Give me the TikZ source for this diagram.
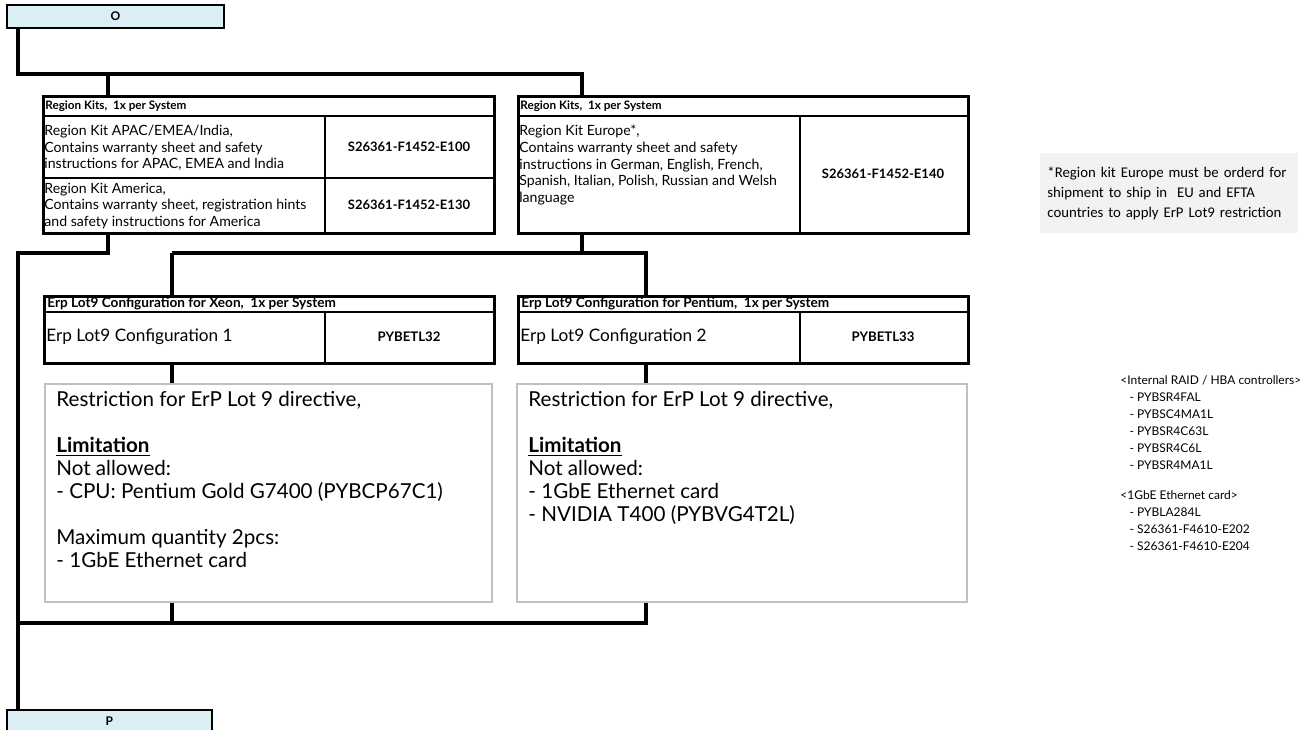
\documentclass[tikz,border=0pt]{standalone}
\usepackage{fontspec}
\setmainfont{Lato}
\newfontfamily\notefont{Carlito}
\definecolor{oblue}{HTML}{DAEEF3}
\definecolor{rgray}{HTML}{BFBFBF}
\definecolor{notebg}{HTML}{F2F2F2}
\begin{document}
\begin{tikzpicture}[x=0.5pt,y=-0.5pt,
  conn/.style={draw, line width=1.6pt},
  frame/.style={draw, line width=1.5pt, inner sep=0pt, anchor=north west},
  div/.style={line width=0.8pt},
  ppbox/.style={draw, line width=0.9pt, fill=oblue, inner sep=0pt, anchor=north west,
     font=\fontsize{6}{7}\selectfont\bfseries},
  rsbox/.style={draw=rgray, line width=1pt, inner sep=0pt, anchor=north west},
  hdr/.style={anchor=west, inner sep=0pt, font=\fontsize{5.85}{7}\selectfont\bfseries},
  ehdr/.style={anchor=west, inner sep=0pt, font=\fontsize{6.8}{8}\selectfont\bfseries},
  small/.style={anchor=west, inner sep=0pt, align=left, font=\fontsize{7.05}{8.3}\selectfont},
  code/.style={inner sep=0pt, font=\fontsize{6.5}{8}\selectfont\bfseries},
  erpmain/.style={anchor=west, inner sep=0pt, font=\fontsize{8.6}{10}\selectfont},
  erpcode/.style={inner sep=0pt, font=\fontsize{6.6}{9}\selectfont\bfseries},
  restr/.style={anchor=north west, inner sep=0pt, align=left, font=\fontsize{10.3}{11.5}\selectfont},
  notebox/.style={fill=notebg, anchor=north west, inner xsep=3.5pt, inner ysep=0pt,
     text width=122pt, minimum height=40pt, align=left, font=\notefont\fontsize{7.4}{10}\selectfont},
  listtxt/.style={anchor=north west, inner sep=0pt, align=left, font=\fontsize{6}{8.5}\selectfont}
]
\useasboundingbox (0,0) rectangle (1300,729);

% top and bottom boxes
\node[ppbox, minimum width=108.5pt, minimum height=11.5pt] (O) at (6,4) {O};
\node[ppbox, minimum width=102.5pt, minimum height=11pt] (P) at (6,709) {P};

% Region kits left
\node[frame, minimum width=225.5pt, minimum height=68.5pt] (RL) at (42,95) {};
\draw[div] (42,116) -- (493,116);
\draw[div] (42,178) -- (493,178);
\draw[div] (325,116) -- (325,232);
\node[hdr] (RLh) at (45,106) {Region Kits,\ \ 1x per System};
\node[small] (RLa) at (44,148) {Region Kit APAC/EMEA/India,\\Contains warranty sheet and safety\\instructions for APAC, EMEA and India};
\node[small] (RLb) at (44,206) {Region Kit America,\\Contains warranty sheet, registration hints\\and safety instructions for America};
\node[code] (RLc1) at (409,147) {S26361-F1452-E100};
\node[code] (RLc2) at (409,205) {S26361-F1452-E130};

% Region kits right
\node[frame, minimum width=225pt, minimum height=68.5pt] (RR) at (517,95) {};
\draw[div] (517,116) -- (967,116);
\draw[div] (800,116) -- (800,232);
\node[hdr] (RRh) at (520,106) {Region Kits,\ \ 1x per System};
\node[small] (RRa) at (519,165) {Region Kit Europe*,\\Contains warranty sheet and safety\\instructions in German, English, French,\\Spanish, Italian, Polish, Russian and Welsh\\language};
\node[code] (RRc) at (883,174) {S26361-F1452-E140};

% Erp boxes
\node[frame, minimum width=225pt, minimum height=33.5pt] (EL) at (43,295) {};
\draw[div] (43,312) -- (493,312);
\draw[div] (325,312) -- (325,362);
\node[ehdr] (ELh) at (47,304) {Erp Lot9 Configuration for Xeon,\ \ 1x per System};
\node[erpmain] (ELm) at (46,337) {Erp Lot9 Configuration 1};
\node[erpcode] (ELc) at (409,337) {PYBETL32};

\node[frame, minimum width=225pt, minimum height=33.5pt] (ER) at (517,295) {};
\draw[div] (517,312) -- (967,312);
\draw[div] (800,312) -- (800,362);
\node[ehdr] (ERh) at (521,304) {Erp Lot9 Configuration for Pentium,\ \ 1x per System};
\node[erpmain] (ERm) at (520,337) {Erp Lot9 Configuration 2};
\node[erpcode] (ERc) at (883,337) {PYBETL33};

% Restriction boxes
\node[rsbox, minimum width=223.5pt, minimum height=109pt] (SL) at (44,383) {};
\node[restr] (SLt) at (56,391) {Restriction for ErP Lot 9 directive,\\[11.5pt]\underline{\textbf{Limitation}}\\Not allowed:\\- CPU: Pentium Gold G7400 (PYBCP67C1)\\[11.5pt]Maximum quantity 2pcs:\\- 1GbE Ethernet card};
\node[rsbox, minimum width=225pt, minimum height=109pt] (SR) at (516,383) {};
\node[restr] (SRt) at (528,391) {Restriction for ErP Lot 9 directive,\\[11.5pt]\underline{\textbf{Limitation}}\\Not allowed:\\- 1GbE Ethernet card\\- NVIDIA T400 (PYBVG4T2L)};

% note and list
\node[notebox] (N) at (1040,153) {*Region kit Europe must be orderd for\\shipment to ship in\ \ EU and EFTA\\countries to apply ErP Lot9 restriction};
\node[listtxt] (L) at (1120,375) {{<}Internal RAID / HBA controllers{>}\\\ \ \ - PYBSR4FAL\\\ \ \ - PYBSC4MA1L\\\ \ \ - PYBSR4C63L\\\ \ \ - PYBSR4C6L\\\ \ \ - PYBSR4MA1L\\[6.5pt]{<}1GbE Ethernet card{>}\\\ \ \ - PYBLA284L\\\ \ \ - S26361-F4610-E202\\\ \ \ - S26361-F4610-E204};

% connectors
\coordinate (j1) at (18,74);
\coordinate (j2) at (18,253);
\coordinate (j3) at (172,253);
\coordinate (j4) at (18,623);
\draw[conn] ([xshift=6pt]O.south west) -- (j1) -| ([xshift=32.5pt]RR.north west);
\draw[conn] ([xshift=33pt]RL.north west) |- (j1);
\draw[conn] ([xshift=33pt]RL.south west) |- (j2) -- (P.north west -| j2);
\draw[conn] ([xshift=32.5pt]RR.south west) |- (j3);
\draw[conn] (j3) -- ([xshift=64.5pt]EL.north west);
\draw[conn] ([xshift=32.5pt]RR.south west |- j3) -| ([xshift=64.5pt]ER.north west);
\draw[conn] ([xshift=64.5pt]EL.south west) -- ([xshift=64pt]SL.north west);
\draw[conn] ([xshift=64.5pt]ER.south west) -- ([xshift=65pt]SR.north west);
\draw[conn] ([xshift=64pt]SL.south west) |- (j4);
\draw[conn] ([xshift=65pt]SR.south west) |- (j4);
\end{tikzpicture}
\end{document}
